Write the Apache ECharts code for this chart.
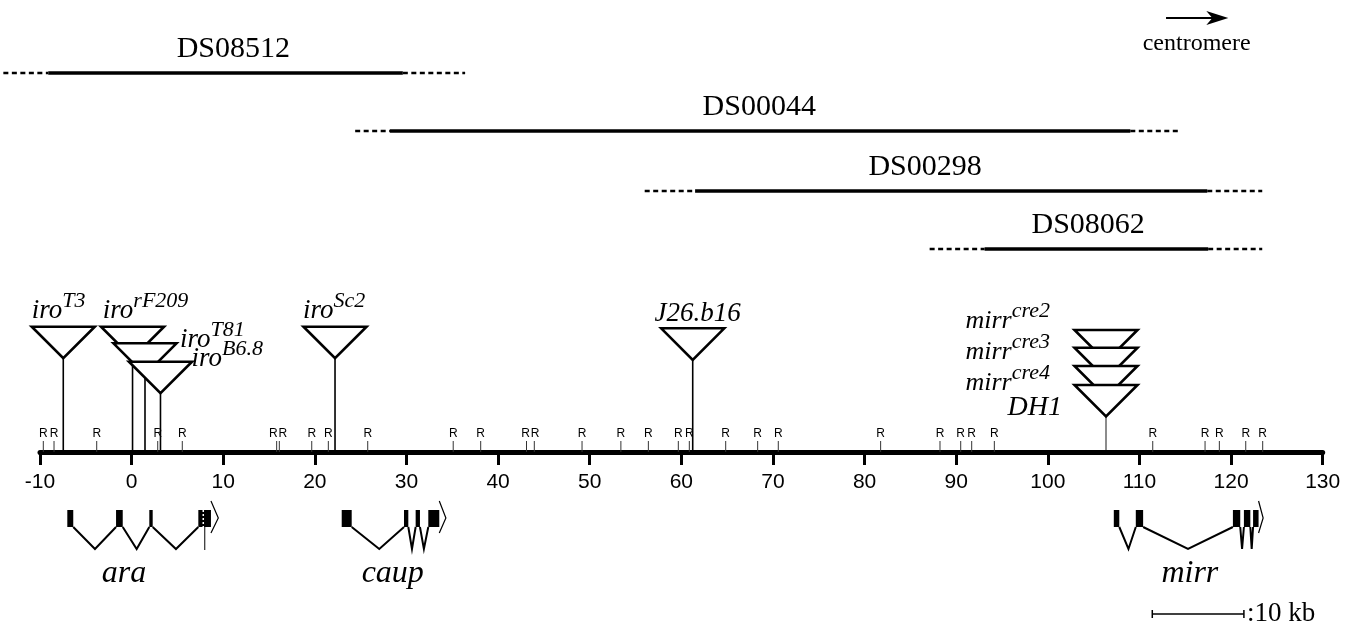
<!DOCTYPE html>
<html>
<head>
<meta charset="utf-8">
<title>iro - mirr region map</title>
<script src="https://cdn.jsdelivr.net/npm/echarts@6/dist/echarts.min.js"></script>
<style>
  html, body { margin: 0; padding: 0; background: #fff; }
  #main { width: 1354px; height: 637px; }
</style>
</head>
<body>
<div id="main"></div>
<script>
// all positions are in kb along the map axis
var deficiencyNames = ['DS08512', 'DS00044', 'DS00298', 'DS08062'];
var defDashStart = [-14.0, 24.4, 56.0, 87.1];
var defSolidStart = [-9.1, 28.2, 61.5, 93.1];
var defSolidEnd = [29.6, 109.0, 117.4, 117.5];
var defDashEnd = [36.4, 114.2, 123.4, 123.4];
var defLabelAt = [11.1, 68.5, 86.6, 104.4];

// EcoRI sites
var rSites = [-9.64, -8.47, -3.81, 2.85, 5.53, 15.83, 16.12, 19.66, 21.47, 25.77,
  35.1, 38.1, 43.1, 43.95, 49.16, 53.4, 56.4, 59.67, 60.87, 64.84, 68.33, 70.58,
  81.75, 88.23, 90.49, 91.69, 94.16, 111.45, 117.16, 118.72, 121.6, 123.45];

// insertions
var insertionBase = ['iro', 'iro', 'iro', 'iro', 'iro', 'J26.b16', 'mirr', 'mirr', 'mirr', 'DH1'];
var insertionSup = ['T3', 'rF209', 'T81', 'B6.8', 'Sc2', '', 'cre2', 'cre3', 'cre4', ''];
var insertionAt = [-7.46, 0.1, 1.46, 3.15, 22.2, 61.24, 106.35, 106.35, 106.35, 106.35];

// gene models
var geneNames = ['ara', 'caup', 'mirr'];
var geneExons = [
  [[-7.02, -6.37], [-1.70, -0.97], [1.93, 2.30], [7.28, 8.66]],
  [[22.93, 24.02], [29.73, 30.2], [31.0, 31.47], [32.38, 33.58]],
  [[107.2, 107.8], [109.6, 110.4], [120.2, 121.0], [121.4, 122.1], [122.4, 123.0]]
];
var geneIntronLow = [
  [-4.0, 0.55, 4.84],
  [27.03, 30.6, 31.9],
  [108.8, 115.3, 121.2, 122.25]
];
var geneArrowTip = [9.46, 34.3, 123.5];
var geneLabelAt = [-0.83, 28.5, 115.5];
var geneExtraMark = [[7.82], [], []];

var scaleBarStart = 111.4;
var scaleBarKb = 10;
var centromereArrow = [112.9, 119.7];

// layout (pixels relative to the axis line, negative = above)
var defRowDy = [-379, -321, -261, -203];
var triTopDy = [-125.3, -125.3, -108.7, -90.3, -125.3, -123.7, -122, -104.3, -86, -67];
var labelPos = [
  [-31.6, -144.5, 'left'],
  [-29.7, -144.5, 'left'],
  [35, -116, 'left'],
  [31, -96.5, 'left'],
  [-32, -144.5, 'left'],
  [5, -142, 'center'],
  [-56, -135, 'right'],
  [-56, -104, 'right'],
  [-56, -73, 'right'],
  [-44, -47, 'right']
];
var labelFont = [27, 27, 27, 27, 27, 27, 26, 26, 26, 28];
var TRI_W = 63, TRI_H = 31.5;
var SERIF = '"Liberation Serif", "Times New Roman", serif';
var SANS = '"Liberation Sans", Arial, sans-serif';

var chart = echarts.init(document.getElementById('main'));

function axisY(api) { return api.coord([0, 0])[1]; }
function px(api, v) { return api.coord([v, 0])[0]; }

function renderDeficiency(params, api) {
  var i = params.dataIndex;
  var y = axisY(api) + defRowDy[i];
  var dash = { stroke: '#000', lineWidth: 2.5, lineDash: [5, 3.5] };
  var a = px(api, defDashStart[i]), b = px(api, defSolidStart[i]);
  var c = px(api, defSolidEnd[i]), d = px(api, defDashEnd[i]);
  return {
    type: 'group',
    children: [
      { type: 'line', shape: { x1: a, y1: y, x2: b, y2: y }, style: dash },
      { type: 'line', shape: { x1: b, y1: y, x2: c, y2: y }, style: { stroke: '#000', lineWidth: 3.5 } },
      { type: 'line', shape: { x1: c, y1: y, x2: d, y2: y }, style: dash },
      {
        type: 'text', x: px(api, defLabelAt[i]), y: y - 24,
        style: { text: deficiencyNames[i], font: '30px ' + SERIF, fill: '#000', textAlign: 'center', textVerticalAlign: 'middle' }
      }
    ]
  };
}

function renderSite(params, api) {
  var i = params.dataIndex;
  var x = px(api, rSites[i]);
  var y0 = axisY(api);
  var shift = 0, minGap = 9.5;
  if (i > 0) {
    var g = x - px(api, rSites[i - 1]);
    if (g < minGap) shift += (minGap - g) / 2;
  }
  if (i < rSites.length - 1) {
    var g2 = px(api, rSites[i + 1]) - x;
    if (g2 < minGap) shift -= (minGap - g2) / 2;
  }
  return {
    type: 'group',
    children: [
      { type: 'line', shape: { x1: x, y1: y0 - 11, x2: x, y2: y0 }, style: { stroke: '#333', lineWidth: 1 } },
      {
        type: 'text', x: x + shift, y: y0 - 18,
        style: { text: 'R', font: '12px ' + SANS, fill: '#000', textAlign: 'center', textVerticalAlign: 'middle' }
      }
    ]
  };
}

function renderInsertion(params, api) {
  var i = params.dataIndex;
  var x = px(api, insertionAt[i]);
  var y0 = axisY(api);
  var top = y0 + triTopDy[i];
  var tip = top + TRI_H;
  var isMirr = i >= 6;
  var fs = labelFont[i];
  var sup = insertionSup[i];
  var lp = labelPos[i];
  var text = sup ? '{b|' + insertionBase[i] + '}{s|' + sup + '}' : '{b|' + insertionBase[i] + '}';
  return {
    type: 'group',
    children: [
      {
        type: 'line', shape: { x1: x, y1: tip, x2: x, y2: y0 - 2 },
        style: { stroke: isMirr ? '#8a8a8a' : '#000', lineWidth: isMirr ? 1.2 : 1.6 }
      },
      {
        type: 'polygon',
        shape: { points: [[x - TRI_W / 2, top], [x + TRI_W / 2, top], [x, tip]] },
        style: { fill: '#fff', stroke: '#000', lineWidth: 2.6 }
      },
      {
        type: 'text', x: x + lp[0], y: y0 + lp[1],
        style: {
          text: text, fill: '#000', textAlign: lp[2], textVerticalAlign: 'middle',
          rich: {
            b: { fontFamily: SERIF, fontStyle: 'italic', fontSize: fs, lineHeight: 34, verticalAlign: 'bottom' },
            s: { fontFamily: SERIF, fontStyle: 'italic', fontSize: 22, lineHeight: 22, verticalAlign: 'top' }
          }
        }
      }
    ]
  };
}

function renderGene(params, api) {
  var g = params.dataIndex;
  var y0 = axisY(api);
  var exTop = y0 + 58, exBot = y0 + 75, low = y0 + 97;
  var exons = geneExons[g];
  var children = [];
  exons.forEach(function (e) {
    var a = px(api, e[0]), b = px(api, e[1]);
    children.push({ type: 'rect', shape: { x: a, y: exTop, width: Math.max(b - a, 3), height: exBot - exTop }, style: { fill: '#000' } });
  });
  geneIntronLow[g].forEach(function (v, k) {
    children.push({
      type: 'polyline',
      shape: { points: [[px(api, exons[k][1]), exBot], [px(api, v), low], [px(api, exons[k + 1][0]), exBot]] },
      style: { stroke: '#000', lineWidth: 2, fill: 'none' }
    });
  });
  var last = px(api, exons[exons.length - 1][1]);
  children.push({
    type: 'polyline',
    shape: { points: [[last, y0 + 49], [px(api, geneArrowTip[g]), y0 + 66], [last, y0 + 81]] },
    style: { stroke: '#000', lineWidth: 1.2, fill: 'none' }
  });
  geneExtraMark[g].forEach(function (v) {
    var x = px(api, v);
    children.push({ type: 'line', shape: { x1: x, y1: exTop, x2: x, y2: exBot }, style: { stroke: '#fff', lineWidth: 1.5, lineDash: [2, 2] } });
    children.push({ type: 'line', shape: { x1: x + 1.5, y1: exBot, x2: x + 1.5, y2: low + 1 }, style: { stroke: '#000', lineWidth: 1 } });
  });
  children.push({
    type: 'text', x: px(api, geneLabelAt[g]), y: y0 + 122,
    style: { text: geneNames[g], font: 'italic 32px ' + SERIF, fill: '#000', textAlign: 'center', textVerticalAlign: 'middle' }
  });
  return { type: 'group', children: children };
}

function renderNotes(params, api) {
  var y0 = axisY(api);
  if (params.dataIndex === 0) {
    var a = px(api, scaleBarStart), b = px(api, scaleBarStart + scaleBarKb);
    var y = y0 + 162;
    return {
      type: 'group',
      children: [
        { type: 'line', shape: { x1: a, y1: y, x2: b, y2: y }, style: { stroke: '#000', lineWidth: 1.5 } },
        { type: 'line', shape: { x1: a, y1: y - 4, x2: a, y2: y + 4 }, style: { stroke: '#000', lineWidth: 1.5 } },
        { type: 'line', shape: { x1: b, y1: y - 4, x2: b, y2: y + 4 }, style: { stroke: '#000', lineWidth: 1.5 } },
        {
          type: 'text', x: b + 3, y: y,
          style: { text: ':10 kb', font: '27px ' + SERIF, fill: '#000', textAlign: 'left', textVerticalAlign: 'middle' }
        }
      ]
    };
  }
  var s = px(api, centromereArrow[0]), t = px(api, centromereArrow[1]);
  var ya = 18;
  return {
    type: 'group',
    children: [
      { type: 'line', shape: { x1: s, y1: ya, x2: t - 12, y2: ya }, style: { stroke: '#000', lineWidth: 2 } },
      { type: 'polygon', shape: { points: [[t, ya], [t - 22, ya - 7], [t - 16, ya], [t - 22, ya + 7]] }, style: { fill: '#000' } },
      {
        type: 'text', x: (s + t) / 2 - 0.5, y: 44,
        style: { text: 'centromere', font: '24px ' + SERIF, fill: '#000', textAlign: 'center', textVerticalAlign: 'middle' }
      }
    ]
  };
}

var option = {
  animation: false,
  backgroundColor: '#fff',
  grid: { left: 40, right: 31.3, top: 0, bottom: 185, outerBoundsMode: 'none' },
  xAxis: {
    type: 'value',
    min: -10,
    max: 130,
    interval: 10,
    axisLine: { show: true, onZero: false, lineStyle: { color: '#000', width: 5 } },
    axisTick: { show: true, length: 13, lineStyle: { color: '#000', width: 3 } },
    axisLabel: { color: '#000', fontSize: 21, fontFamily: SANS, margin: 20 },
    splitLine: { show: false }
  },
  yAxis: { type: 'value', min: 0, max: 1, show: false },
  series: [
    {
      name: 'deficiencies', type: 'custom', renderItem: renderDeficiency,
      data: deficiencyNames.map(function (n, i) { return [defSolidStart[i], 0]; })
    },
    {
      name: 'R sites', type: 'custom', renderItem: renderSite,
      data: rSites.map(function (v) { return [v, 0]; })
    },
    {
      name: 'insertions', type: 'custom', renderItem: renderInsertion,
      data: insertionAt.map(function (v) { return [v, 0]; })
    },
    {
      name: 'genes', type: 'custom', renderItem: renderGene,
      data: geneLabelAt.map(function (v) { return [v, 0]; })
    },
    {
      name: 'notes', type: 'custom', renderItem: renderNotes,
      data: [[scaleBarStart, 0], [centromereArrow[0], 0]]
    }
  ]
};
chart.setOption(option);
</script>
</body>
</html>
